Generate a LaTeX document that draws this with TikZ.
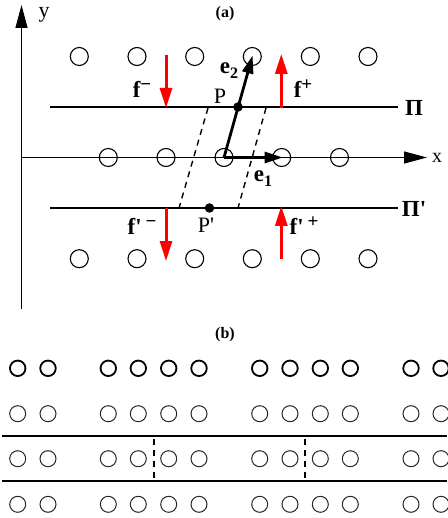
\documentclass[tikz,border=0pt]{standalone}
\usepackage{fontspec}
\setmainfont[Ligatures=TeXOff]{Liberation Serif}
\usetikzlibrary{arrows.meta}
\newcommand{\supb}[1]{\raisebox{7pt}{\fontsize{19}{19}\selectfont #1}}
\newcommand{\subb}[1]{\raisebox{-5pt}{\fontsize{16}{16}\selectfont #1}}
\tikzset{
  atom/.style={circle,draw=black,line width=1.1pt,minimum size=18pt,inner sep=0pt},
  atomb/.style={circle,draw=black!85,line width=1pt,minimum size=16pt,inner sep=0pt},
  atombt/.style={circle,draw=black,line width=1.8pt,minimum size=15.5pt,inner sep=0pt},
  dot/.style={circle,fill=black,minimum size=9.5pt,inner sep=0pt},
  axis/.style={line width=1.1pt,-{Triangle[length=23pt,width=12pt]}},
  plane/.style={line width=1.5pt},
  force/.style={red,line width=3pt,-{Triangle[length=20pt,width=12pt]},shorten >=-1pt},
  vec/.style={line width=2.8pt,-{Triangle[length=18pt,width=11pt]},shorten >=-1pt},
  dashline/.style={line width=1.4pt,dash pattern=on 6pt off 5pt},
  vdash/.style={line width=1.8pt,dash pattern=on 6pt off 5pt},
  lab/.style={inner sep=0pt,font=\fontsize{22}{22}\selectfont},
  blab/.style={inner sep=0pt,font=\fontsize{23}{23}\selectfont\bfseries},
  title/.style={inner sep=0pt,font=\fontsize{16}{16}\selectfont\bfseries}
}
\begin{document}
\begin{tikzpicture}[x=1pt,y=-1pt]
\useasboundingbox (0,0) rectangle (447,518);
% axes
\coordinate (o) at (21.5,157.5);
\coordinate (ybot) at (21.5,309);
\coordinate (ytop) at (21.5,5);
\coordinate (xtip) at (427,157.5);
\draw[axis] (ybot) -- (ytop);
\draw[axis] (o) -- (xtip);
% atoms
\foreach \x [count=\i] in {79.3,137,194.7,252.3,310.3,368}{
  \node[atom] (t\i) at (\x,56.5) {};
  \node[atom] (u\i) at (\x,258.7) {};
}
\foreach \x [count=\i] in {108.3,166,224,281.7,339.5}{
  \node[atom] (m\i) at (\x,157.5) {};
}
% planes
\coordinate (pa) at (50,107); \coordinate (pb) at (398,107);
\coordinate (qa) at (50,208); \coordinate (qb) at (398,208);
\draw[plane] (pa) -- (pb);
\draw[plane] (qa) -- (qb);
% dashed cell
\coordinate (d1) at (208,108); \coordinate (d2) at (179,208);
\coordinate (d3) at (266,108); \coordinate (d4) at (238,208);
\draw[dashline] (d1) -- (d2);
\draw[dashline] (d3) -- (d4);
% points
\node[dot] (P) at (238,107) {};
\node[dot] (Pp) at (209.5,208) {};
% lattice vectors
\draw[vec] (m3.center) -- (t4.center);
\draw[vec] (m3.center) -- (m4.center);
% forces
\coordinate (f1a) at (166,55); \coordinate (f1b) at (166,107);
\coordinate (f2a) at (281.3,108); \coordinate (f2b) at (281.3,55);
\coordinate (f3a) at (166,208); \coordinate (f3b) at (166,260);
\coordinate (f4a) at (281.3,259); \coordinate (f4b) at (281.3,207);
\draw[force] (f1a) -- (f1b);
\draw[force] (f2a) -- (f2b);
\draw[force] (f3a) -- (f3b);
\draw[force] (f4a) -- (f4b);
% labels
\node[title] (ta) at (225,14) {(a)};
\node[lab] (ly) at (44,15) {y};
\node[lab,font=\fontsize{20}{20}\selectfont] (lx) at (437,158) {x};
\node[blab] (fm) at (142,89) {f\supb{−}};
\node[blab] (fp) at (303,89) {f\supb{+}};
\node[lab] (lP) at (220,96) {P};
\node[lab] (lPp) at (206,225) {P'};
\node[blab] (e2) at (229,71) {e\subb{2}};
\node[blab] (e1) at (263,179) {e\subb{1}};
\node[blab] (Pi) at (414,108) {Π};
\node[blab] (Pip) at (414,209) {Π'};
\node[blab] (fpm) at (142,226) {f'\,\supb{−}};
\node[blab] (fpp) at (304,226) {f'\,\supb{+}};
% part b
\node[title] (tb) at (225,335) {(b)};
\foreach \x [count=\i] in {17.7,48,108.3,138.3,168.7,199,259.7,290,320.3,350.3,411,441}{
  \node[atombt] (r\i) at (\x,368.3) {};
  \node[atomb] (s\i) at (\x,413.7) {};
  \node[atomb] (v\i) at (\x,458.7) {};
  \node[atomb] (w\i) at (\x,504.3) {};
}
\coordinate (b1a) at (2,435.7); \coordinate (b1b) at (447,435.7);
\coordinate (b2a) at (2,481); \coordinate (b2b) at (447,481);
\draw[plane,line width=1.7pt] (b1a) -- (b1b);
\draw[plane,line width=1.3pt] (b2a) -- (b2b);
\coordinate (c1) at (153.7,439); \coordinate (c2) at (153.7,481);
\coordinate (c3) at (305,439); \coordinate (c4) at (305,481);
\draw[vdash] (c1) -- (c2);
\draw[vdash] (c3) -- (c4);
\end{tikzpicture}
\end{document}
